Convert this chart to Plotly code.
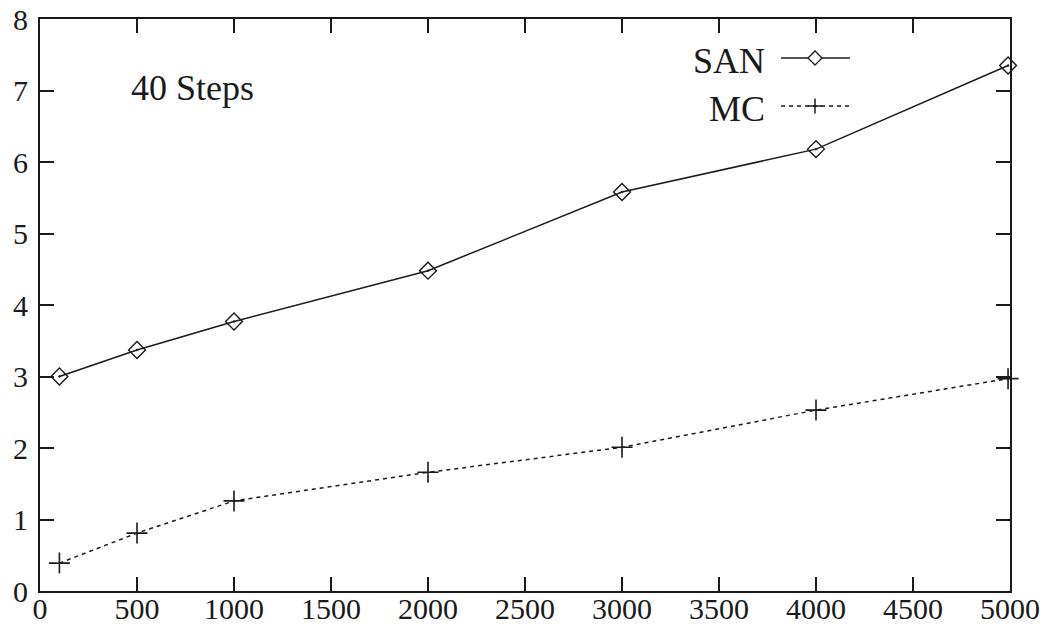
import plotly.graph_objects as go

# ---- data ----
x_vals = [100, 500, 1000, 2000, 3000, 4000, 4990]
san_vals = [3.00, 3.37, 3.77, 4.48, 5.58, 6.18, 7.35]
mc_vals = [0.39, 0.81, 1.26, 1.66, 2.01, 2.53, 2.97]
x_ticks = [0, 500, 1000, 1500, 2000, 2500, 3000, 3500, 4000, 4500, 5000]
y_ticks = [0, 1, 2, 3, 4, 5, 6, 7, 8]
series_names = ["SAN", "MC"]
note_text = "40 Steps"

W, H = 1050, 627
ML, MR, MT, MB = 40, 40, 19, 36          # plot box on screen
PW, PH = W - ML - MR, H - MT - MB
FONT = "Liberation Serif"
INK = "#1a1a1a"


def px(x):
    return (x - ML) / PW


def py(y):
    return (H - MB - y) / PH


fig = go.Figure()
fig.add_trace(go.Scatter(
    x=x_vals, y=san_vals, mode="lines+markers", name=series_names[0],
    line=dict(color=INK, width=1.5),
    marker=dict(symbol="diamond-open-dot", size=13, color=INK, line=dict(width=1.4, color=INK)),
    showlegend=False, cliponaxis=False))
fig.add_trace(go.Scatter(
    x=x_vals, y=mc_vals, mode="lines+markers", name=series_names[1],
    line=dict(color=INK, width=1.5, dash="4px,4px"),
    marker=dict(symbol="cross-thin", size=15, color=INK, line=dict(width=1.6, color=INK)),
    showlegend=False, cliponaxis=False))

# ---- gnuplot-style key drawn in paper space ----
shapes = []
annotations = []
key_rows = [(58, series_names[0], "solid"), (106, series_names[1], "dot")]
for ypix, name, dash in key_rows:
    shapes.append(dict(type="line", xref="paper", yref="paper",
                       x0=px(781), x1=px(850), y0=py(ypix), y1=py(ypix),
                       line=dict(color=INK, width=1.5,
                                 dash="solid" if dash == "solid" else "4px,4px")))
    annotations.append(dict(text=name, xref="paper", yref="paper",
                            x=px(767), y=py(ypix + 3), xanchor="right", yanchor="middle",
                            showarrow=False, font=dict(family=FONT, size=36, color=INK)))
# diamond for SAN key
cx, cy, r = 815, 58, 7
shapes.append(dict(type="path", xref="paper", yref="paper",
                   path=f"M {px(cx - r)} {py(cy)} L {px(cx)} {py(cy - r)} L {px(cx + r)} {py(cy)} L {px(cx)} {py(cy + r)} Z",
                   fillcolor="white", line=dict(color=INK, width=1.3)))
# plus for MC key
cx, cy, r = 815, 106, 7.5
shapes.append(dict(type="line", xref="paper", yref="paper",
                   x0=px(cx - r), x1=px(cx + r), y0=py(cy), y1=py(cy), line=dict(color=INK, width=1.5)))
shapes.append(dict(type="line", xref="paper", yref="paper",
                   x0=px(cx), x1=px(cx), y0=py(cy - r), y1=py(cy + r), line=dict(color=INK, width=1.5)))

annotations.append(dict(text=note_text, xref="paper", yref="paper",
                        x=px(192), y=py(88), xanchor="center", yanchor="middle",
                        showarrow=False, font=dict(family=FONT, size=36, color=INK)))

axis_common = dict(showgrid=False, zeroline=False, showline=True, linecolor=INK, linewidth=2,
                   mirror="ticks", ticks="inside", ticklen=14, tickwidth=1.5, tickcolor=INK,
                   automargin=False,
                   tickfont=dict(family=FONT, size=30, color=INK))

fig.update_layout(
    width=W, height=H,
    margin=dict(l=ML, r=MR, t=MT, b=MB),
    paper_bgcolor="white", plot_bgcolor="white",
    xaxis=dict(range=[0, 5000], tickvals=x_ticks, ticktext=[str(v) for v in x_ticks],
               ticklabelstandoff=-10, **axis_common),
    yaxis=dict(range=[0, 8], tickvals=y_ticks, ticktext=[str(v) for v in y_ticks],
               ticklabelstandoff=4, **axis_common),
    shapes=shapes, annotations=annotations, showlegend=False,
)

# remove the default 8px body margin so the figure fills the window exactly
fig.write_html("out.html", config={"displayModeBar": False},
               post_script="document.body.style.margin='0';document.body.style.overflow='hidden';")
